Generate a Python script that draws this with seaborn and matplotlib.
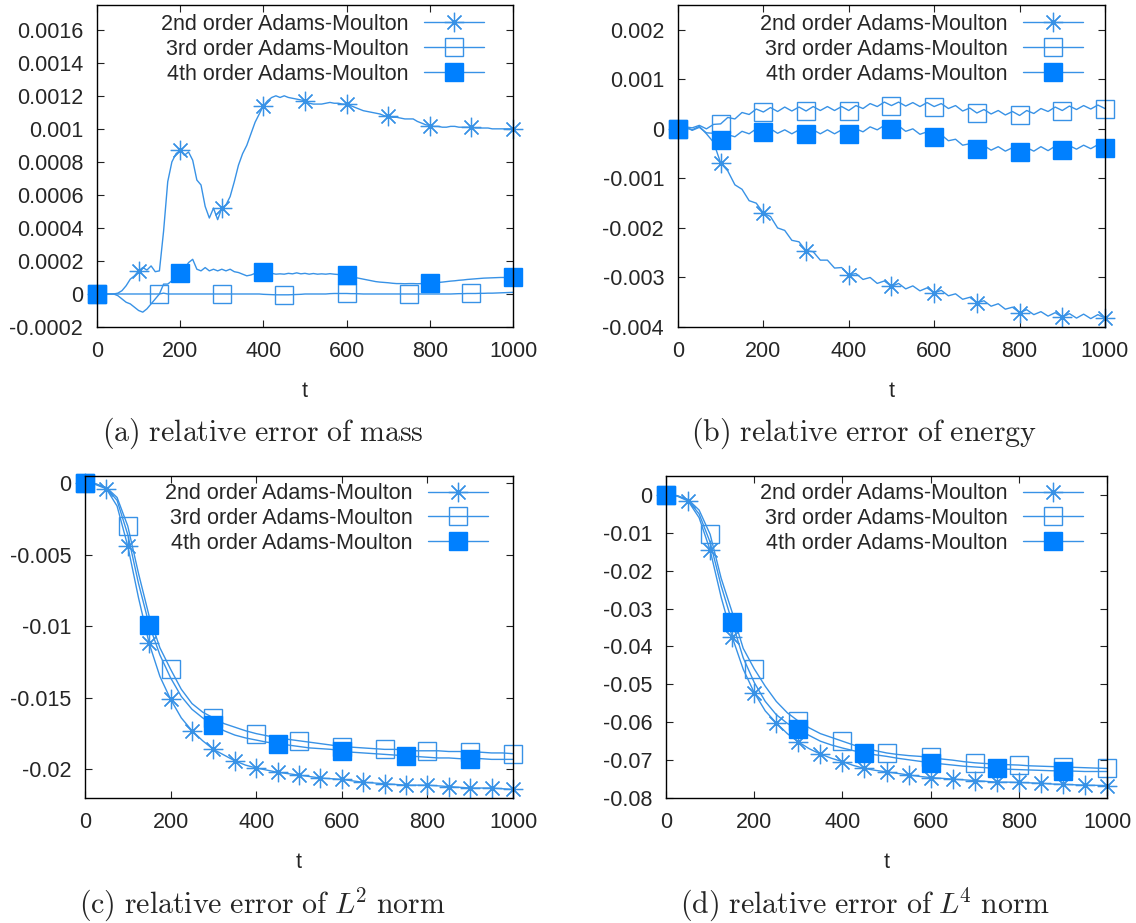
import numpy as np
import pandas as pd
import matplotlib
matplotlib.use("Agg")
import matplotlib.pyplot as plt
import seaborn as sns
from matplotlib.ticker import FuncFormatter, MultipleLocator

sns.set_style("ticks", {"xtick.direction": "in", "ytick.direction": "in"})
plt.rcParams["font.family"] = ["Liberation Sans", "DejaVu Sans"]
plt.rcParams["mathtext.fontset"] = "cm"

labels = ["2nd order Adams-Moulton", "3rd order Adams-Moulton", "4th order Adams-Moulton"]

# (a) relative error of mass, t step 10, values in 1e-4
t_a = np.arange(0, 1001, 10)
mass_am2 = [0, 0, 0, 0, 0, 0.05, 0.2, 0.5, 0.9, 1.1,
            1.4, 1.6, 1.45, 1.7, 1.35, 1.4, 3.8, 6.8, 8.0, 8.5,
            8.7, 8.4, 8.6, 8.1, 6.9, 6.6, 5.3, 4.6, 5.2, 4.5,
            5.2, 5.4, 5.9, 6.8, 7.8, 8.5, 9.0, 9.7, 10.4, 10.9,
            11.4, 11.7, 11.9, 12.0, 11.9, 12.0, 11.9, 11.85, 11.8, 11.75,
            11.7, 11.55, 11.5, 11.5, 11.5, 11.55, 11.6, 11.55, 11.55, 11.5,
            11.5, 11.4, 11.3, 11.2, 11.1, 11.05, 11.0, 10.95, 10.9, 10.8,
            10.75, 10.7, 10.7, 10.65, 10.6, 10.6, 10.6, 10.45, 10.35, 10.25,
            10.2, 10.15, 10.15, 10.1, 10.1, 10.15, 10.15, 10.1, 10.1, 10.1,
            10.1, 10.05, 10.05, 10.05, 10.05, 10.0, 10.0, 10.0, 10.0, 10.0,
            10.0]
mass_am3 = [0, 0, 0, 0, 0, 0, 0, 0, 0, 0,
            0, 0, 0, 0, 0, 0, 0.05, 0, 0, 0,
            0, 0, 0, 0, 0, 0, 0, 0, 0, 0,
            0, 0, 0, 0, 0, 0, 0, 0, 0, 0,
            -0.02, -0.03, -0.04, -0.05, -0.05, -0.05, -0.05, -0.04, -0.03, -0.02,
            0, 0, 0, 0, 0, 0, 0.02, 0.03, 0.03, 0.03,
            0.03, 0.02, 0.02, 0.01, 0, 0, 0, 0, 0, 0,
            0, 0, 0, 0, 0, 0, 0, 0, 0, 0,
            0, 0, 0, 0, 0, 0, 0.01, 0.02, 0.02, 0.03,
            0.03, 0.03, 0.04, 0.04, 0.05, 0.05, 0.06, 0.07, 0.08, 0.09,
            0.1]
mass_am4 = [0, 0, 0, 0, 0, -0.1, -0.3, -0.5, -0.6, -0.8,
            -1.0, -1.1, -0.9, -0.6, -0.3, 0.0, 0.6, 0.6, 0.8, 1.0,
            1.25, 1.5, 1.9, 2.1, 1.5, 1.4, 1.6, 1.4, 1.5, 1.4,
            1.5, 1.4, 1.5, 1.35, 1.3, 1.2, 1.1, 1.15, 1.25, 1.3,
            1.36, 1.3, 1.25, 1.2, 1.22, 1.2, 1.25, 1.22, 1.28, 1.22,
            1.25, 1.2, 1.24, 1.2, 1.22, 1.2, 1.23, 1.2, 1.18, 1.15,
            1.14, 1.05, 1.0, 0.95, 0.9, 0.85, 0.8, 0.75, 0.72, 0.7,
            0.68, 0.65, 0.63, 0.63, 0.62, 0.63, 0.63, 0.62, 0.63, 0.64,
            0.65, 0.68, 0.7, 0.72, 0.75, 0.78, 0.8, 0.83, 0.85, 0.88,
            0.9, 0.92, 0.94, 0.96, 0.97, 0.98, 0.99, 1.0, 1.0, 1.0,
            1.0]

# (b) relative error of energy, t step 1000/60, values in 1e-4
t_b = np.linspace(0, 1000, 61)
energy_am2 = [0.0, 0.4, -0.2, 0.5, -1.0, -2.7, -6.9, -8.5, -11.3, -12.2,
              -14.5, -15.0, -17.0, -17.7, -20.0, -20.5, -22.5, -22.8, -24.6, -24.8,
              -26.5, -26.5, -28.1, -28.0, -29.5, -29.2, -30.4, -30.0, -31.2, -30.7,
              -31.8, -31.2, -32.3, -31.7, -32.7, -32.1, -33.1, -32.6, -33.7, -33.3,
              -34.4, -34.0, -35.1, -34.7, -35.8, -35.3, -36.4, -36.0, -37.1, -36.5,
              -37.5, -36.9, -37.8, -37.1, -38.0, -37.3, -38.2, -37.4, -38.3, -37.5,
              -38.2]
energy_am3 = [0.0, 0.4, 0.2, 0.7, 0.0, 0.9, 1.0, 2.3, 2.0, 3.3,
              2.9, 4.0, 3.4, 4.3, 3.5, 4.4, 3.6, 4.4, 3.6, 4.5,
              3.7, 4.5, 3.7, 4.5, 3.7, 4.7, 4.1, 5.1, 4.5, 5.4,
              4.7, 5.4, 4.6, 5.3, 4.5, 5.3, 4.5, 5.1, 4.1, 4.7,
              3.6, 4.2, 3.2, 3.9, 3.0, 3.7, 2.8, 3.5, 2.7, 3.7,
              3.1, 4.1, 3.5, 4.4, 3.7, 4.6, 3.9, 4.7, 4.0, 4.8,
              4.1]
energy_am4 = [0.0, 0.4, -0.3, 0.3, -0.8, -0.9, -2.2, -1.2, -1.6, -0.5,
              -1.0, 0.0, -0.7, 0.0, -0.9, -0.2, -1.0, -0.2, -1.0, -0.2,
              -1.0, -0.2, -1.0, -0.2, -1.0, 0.0, -0.6, 0.4, -0.2, 0.7,
              0.0, 0.6, -0.5, 0.0, -1.1, -0.6, -1.6, -1.2, -2.4, -2.1,
              -3.3, -3.0, -4.1, -3.4, -4.3, -3.6, -4.5, -3.8, -4.7, -3.8,
              -4.5, -3.6, -4.4, -3.5, -4.3, -3.4, -4.1, -3.3, -4.0, -3.2,
              -3.9]

# (c) relative error of L2 norm, t step 25, values in 1e-3
t_cd = np.arange(0, 1001, 25)
l2_am2 = [0, -0.1, -0.4, -1.6, -4.4, -8.0, -11.2, -13.5, -15.1, -16.4,
          -17.3, -18.0, -18.6, -19.0, -19.4, -19.7, -19.9, -20.05, -20.2, -20.3,
          -20.4, -20.5, -20.6, -20.65, -20.7, -20.8, -20.9, -20.95, -21.0, -21.05,
          -21.1, -21.1, -21.1, -21.15, -21.2, -21.25, -21.3, -21.3, -21.3, -21.35,
          -21.4]
l2_am3 = [0, -0.05, -0.3, -1.0, -3.0, -6.3, -9.3, -11.5, -13.0, -14.4,
          -15.4, -16.0, -16.4, -16.8, -17.05, -17.3, -17.5, -17.65, -17.8, -17.9,
          -18.0, -18.1, -18.2, -18.3, -18.4, -18.45, -18.5, -18.55, -18.6, -18.6,
          -18.65, -18.7, -18.7, -18.7, -18.75, -18.75, -18.8, -18.8, -18.85, -18.85,
          -18.9]
l2_am4 = [0, -0.05, -0.35, -1.2, -3.6, -7.0, -9.9, -12.0, -13.6, -14.9,
          -15.8, -16.4, -16.9, -17.3, -17.6, -17.8, -17.95, -18.1, -18.2, -18.3,
          -18.4, -18.5, -18.55, -18.6, -18.7, -18.8, -18.85, -18.9, -18.95, -19.0,
          -19.05, -19.1, -19.15, -19.2, -19.2, -19.25, -19.25, -19.25, -19.3, -19.3,
          -19.3]

# (d) relative error of L4 norm, t step 25, values in 1e-2
l4_am2 = [0, -0.03, -0.16, -0.6, -1.46, -2.7, -3.75, -4.6, -5.22, -5.7,
          -6.02, -6.3, -6.52, -6.7, -6.84, -6.95, -7.04, -7.14, -7.22, -7.27,
          -7.31, -7.35, -7.39, -7.43, -7.46, -7.48, -7.5, -7.52, -7.54, -7.56,
          -7.58, -7.58, -7.59, -7.6, -7.61, -7.63, -7.64, -7.65, -7.66, -7.665,
          -7.67]
l4_am3 = [0, -0.02, -0.12, -0.4, -1.04, -2.2, -3.1, -4.05, -4.59, -5.05,
          -5.45, -5.75, -5.97, -6.15, -6.3, -6.4, -6.5, -6.6, -6.68, -6.75,
          -6.81, -6.85, -6.88, -6.9, -6.93, -6.97, -7.0, -7.04, -7.07, -7.09,
          -7.1, -7.12, -7.13, -7.15, -7.16, -7.17, -7.18, -7.19, -7.2, -7.21,
          -7.22]
l4_am4 = [0, -0.02, -0.14, -0.5, -1.25, -2.4, -3.36, -4.3, -4.95, -5.45,
          -5.8, -6.03, -6.19, -6.35, -6.5, -6.6, -6.68, -6.75, -6.81, -6.86,
          -6.9, -6.95, -6.99, -7.03, -7.07, -7.1, -7.13, -7.16, -7.18, -7.2,
          -7.22, -7.24, -7.25, -7.26, -7.27, -7.28, -7.28, -7.29, -7.3, -7.3,
          -7.3]

line_col = "#3892e6"
fill_col = "#0080ff"
styles = [dict(marker=(8, 2, 0), markersize=14, mec=line_col, mew=0.9),
          dict(marker="s", markersize=13, mfc="none", mec=line_col, mew=1.0),
          dict(marker="s", markersize=13, mfc=fill_col, mec=fill_col, mew=1.0)]

panels = [
    dict(rect=[0.0854, 0.6457, 0.3662, 0.3489], t=t_a, scale=1e-4,
         series=[mass_am2, mass_am3, mass_am4], every=[10, 15, 20],
         ylim=(-0.0002, 0.00175), ystep=0.0002, leg=(0.930, 0.972)),
    dict(rect=[0.5968, 0.6457, 0.3759, 0.3489], t=t_b, scale=1e-4,
         series=[energy_am2, energy_am3, energy_am4], every=[6, 6, 6],
         ylim=(-0.004, 0.0025), ystep=0.001, leg=(0.948, 0.972)),
    dict(rect=[0.0748, 0.1354, 0.3768, 0.3489], t=t_cd, scale=1e-3,
         series=[l2_am2, l2_am3, l2_am4], every=[2, 4, 6],
         ylim=(-0.022, 0.0005), ystep=0.005, leg=(0.942, 0.978)),
    dict(rect=[0.5863, 0.1354, 0.3882, 0.3489], t=t_cd, scale=1e-2,
         series=[l4_am2, l4_am3, l4_am4], every=[2, 4, 6],
         ylim=(-0.08, 0.005), ystep=0.01, leg=(0.946, 0.978)),
]

captions = [(263, 433, r"$\mathrm{(a)\ relative\ error\ of\ mass}$"),
            (864, 433, r"$\mathrm{(b)\ relative\ error\ of\ energy}$"),
            (262, 905, r"$\mathrm{(c)\ relative\ error\ of\ }L^{\!2}\mathrm{\ norm}$"),
            (865, 905, r"$\mathrm{(d)\ relative\ error\ of\ }L^{\!4}\mathrm{\ norm}$")]

fmt = FuncFormatter(lambda v, p: "%g" % (round(v, 8) + 0.0))

fig = plt.figure(figsize=(11.36, 9.23), dpi=100)
for p in panels:
    ax = fig.add_axes(p["rect"])
    for vals, lab, st, ev in zip(p["series"], labels, styles, p["every"]):
        df = pd.DataFrame({"t": p["t"], "err": np.array(vals) * p["scale"]})
        sns.lineplot(data=df, x="t", y="err", ax=ax, label=lab, color=line_col,
                     linewidth=1.0, markevery=ev, clip_on=False, sort=False,
                     errorbar=None, **st)
    ax.set_xlim(0, 1000)
    ax.set_ylim(*p["ylim"])
    ax.xaxis.set_major_locator(MultipleLocator(200))
    ax.yaxis.set_major_locator(MultipleLocator(p["ystep"]))
    ax.yaxis.set_major_formatter(fmt)
    ax.tick_params(axis="both", which="major", direction="in", length=5,
                   width=0.8, labelsize=15.5, top=True, right=True, color="#222222")
    ax.tick_params(axis="x", pad=10)
    ax.tick_params(axis="y", pad=10)
    for s in ax.spines.values():
        s.set_color("black")
        s.set_linewidth(1.0)
    ax.set_xlabel("t", fontsize=15.5, labelpad=14)
    ax.set_ylabel("")
    ax.legend(loc="upper right", bbox_to_anchor=p["leg"], frameon=False,
              markerfirst=False, fontsize=15.5, handlelength=2.8,
              handletextpad=0.7, labelspacing=0.18, borderpad=0, borderaxespad=0)

for x, y, txt in captions:
    fig.text(x / 1136, 1 - y / 923, txt, ha="center", va="center", fontsize=21.5)

fig.savefig("out.png", dpi=100)
